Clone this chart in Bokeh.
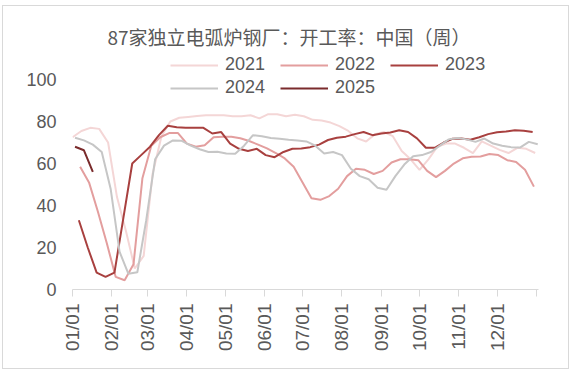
import math
import pandas as pd
from bokeh.plotting import figure
from bokeh.layouts import column, row
from bokeh.models import Range1d, FixedTicker, Legend, LegendItem, Spacer
from bokeh.embed import file_html
from bokeh.resources import INLINE

chart_title = "87家独立电弧炉钢厂：开工率：中国（周）"
years = ["2021", "2022", "2023", "2024", "2025"]
first_weeks = ["2021-01-01", "2022-01-07", "2023-01-06", "2024-01-03", "2025-01-03"]

v2021 = [72.5, 75.5, 77, 76.5, 70, 44, 28, 10, 16, 55,
         73, 80, 81.8, 82.2, 82.6, 83, 83, 83, 82.5, 82.5,
         83, 81.5, 83.5, 83.5, 82.5, 83.2, 82.5, 80.8, 80.5, 79.5,
         77.8, 75.5, 72, 70.5, 74, 75, 73, 66, 62, 57,
         62, 68, 69.5, 69.5, 67.5, 65, 70.5, 68.5, 66.5, 65,
         67.5, 67, 65]
v2022 = [58.5, 51, 37, 22, 6, 4.4, 12, 53, 68.5, 72.5,
         74.5, 74.5, 69.5, 68, 68.7, 72.5, 72.7, 72.7, 72, 70.7,
         69, 67.2, 65, 62.4, 58.5, 51, 43.5, 42.7, 44.5, 48,
         54, 57.5, 57, 55, 56.5, 60.5, 62, 62, 61.6, 56.5,
         53.5, 56.5, 60, 62.5, 63.2, 63.3, 64.5, 64, 61.6, 60.7,
         57, 49]
v2023 = [33, 20, 8, 6, 8, 34, 60, 64, 68, 73.5,
         78, 77.3, 77, 77, 77, 74.3, 75, 69.5, 67, 66,
         67, 64, 63, 65.5, 67, 67.2, 67.8, 69, 71.2, 72.3,
         72.8, 74, 75, 73.5, 74.3, 74.8, 75.8, 75, 72, 67.5,
         67.5, 70, 71.8, 71.9, 71.3, 72.5, 74, 74.9, 75.3, 75.8,
         75.6, 75]
v2024 = [72.3, 71, 69, 65.5, 48, 18, 7.5, 8.2, 33, 62,
         68.5, 71, 70.8, 68.5, 66.8, 65.5, 65.6, 64.8, 64.6, 68.5,
         73.5, 73, 72.2, 71.8, 71.3, 71, 70.5, 68.5, 64.8, 65.5,
         64, 57.5, 54, 52.5, 48.5, 47.5, 54, 59.5, 63.5, 64,
         65.5, 68.5, 71.5, 72.2, 71.5, 70.3, 71.9, 69.5, 68.5, 67.8,
         67.6, 70.3, 69.2]
v2025 = [68, 66.3, 56]
series_values = [v2021, v2022, v2023, v2024, v2025]

month_labels = ["01/01", "02/01", "03/01", "04/01", "05/01", "06/01",
                "07/01", "08/01", "09/01", "10/01", "11/01", "12/01"]
y_ticks = [0, 20, 40, 60, 80, 100]

colors = ["#F4D6D6", "#E39E9E", "#A8403F", "#C6C6C6", "#7A2B2C"]

month_starts = pd.date_range("2021-01-01", periods=13, freq="MS")
month_days = [int((d - month_starts[0]).days) for d in month_starts]

p = figure(width=567, height=364, output_backend="svg", toolbar_location=None,
           x_range=Range1d(0, 366.6), y_range=Range1d(0, 114.3),
           min_border_left=69, min_border_right=32, min_border_top=43,
           min_border_bottom=81)
p.styles = {"border": "1px solid #D9D9D9"}

renderers = []
for yr, start, vals, c in zip(years, first_weeks, series_values, colors):
    dates = pd.date_range(start, periods=len(vals), freq="7D")
    jan1 = pd.Timestamp(f"{yr}-01-01")
    xs = [(d - jan1).days for d in dates]
    r = p.line(xs, vals, line_color=c, line_width=2)
    renderers.append(r)

p.title.text = chart_title
p.title.text_font = "Noto Sans CJK SC"
p.title.text_font_size = "19px"
p.title.text_font_style = "normal"
p.title.text_color = "#595959"
p.title.align = "left"
p.title.offset = 35
p.title.standoff = 0

legend_rows = [[0, 1, 2], [3, 4]]
legend_locs = [(98, 214), (98, 191)]
for row_idx, loc in zip(legend_rows, legend_locs):
    leg = Legend(items=[LegendItem(label=years[i], renderers=[renderers[i]]) for i in row_idx],
                 orientation="horizontal", location=loc)
    leg.border_line_color = None
    leg.background_fill_alpha = 0
    leg.padding = 0
    leg.margin = 0
    leg.spacing = 15
    leg.glyph_width = 48
    leg.glyph_height = 20
    leg.label_height = 20
    leg.label_standoff = 7
    leg.label_text_font = "Liberation Sans"
    leg.label_text_font_size = "18px"
    leg.label_text_color = "#595959"
    p.add_layout(leg, "center")

p.xaxis.ticker = FixedTicker(ticks=month_days)
p.xaxis.major_label_overrides = {d: lab for d, lab in zip(month_days, month_labels + [""])}
p.xaxis.major_label_orientation = math.pi / 2
p.xaxis.axis_line_color = "#D9D9D9"
p.xaxis.major_tick_line_color = "#D9D9D9"
p.xaxis.major_tick_out = 7
p.xaxis.major_tick_in = 0
p.xaxis.minor_tick_line_color = None
p.xaxis.major_label_standoff = 7
p.xaxis.major_label_text_font = "Liberation Sans"
p.xaxis.major_label_text_font_size = "19px"
p.xaxis.major_label_text_color = "#595959"

p.yaxis.ticker = FixedTicker(ticks=y_ticks)
p.yaxis.axis_line_color = None
p.yaxis.major_tick_line_color = None
p.yaxis.minor_tick_line_color = None
p.yaxis.major_tick_out = 0
p.yaxis.major_label_standoff = 16
p.yaxis.major_label_text_font = "Liberation Sans"
p.yaxis.major_label_text_font_size = "18px"
p.yaxis.major_label_text_color = "#595959"

p.grid.visible = False
p.outline_line_color = None

root = column(Spacer(height=5, width=569), row(Spacer(width=2, height=364), p))
open("out.html", "w").write(file_html(root, INLINE))
